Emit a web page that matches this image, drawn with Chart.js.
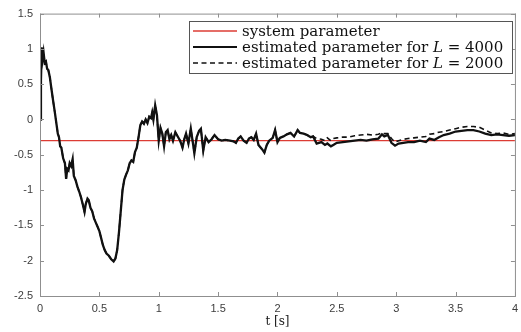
<html>
<head>
    <title>Parameter estimate</title>
    <script src="https://cdn.jsdelivr.net/npm/chart.js@4.4.1/dist/chart.umd.min.js"></script>
    <style>
        html, body { margin: 0; padding: 0; overflow: hidden; background: #fff; }
    </style>
</head>
<body>
    <canvas id="est" width="524" height="332"></canvas>
    <script>
        // time axis and values
        const xTicks = [0, 0.5, 1, 1.5, 2, 2.5, 3, 3.5, 4];
        const yTicks = [-2.5, -2, -1.5, -1, -0.5, 0, 0.5, 1, 1.5];
        const systemParam = -0.3;

        // both estimates coincide up to about t = 2.3 s
        const tEarly = [0, 0.008, 0.015, 0.022, 0.03, 0.04, 0.05, 0.06, 0.07, 0.083, 0.095, 0.11, 0.125, 0.14, 0.15,
            0.16, 0.17, 0.18, 0.195, 0.21, 0.22, 0.23, 0.24, 0.25, 0.262, 0.275, 0.285, 0.3, 0.315, 0.33, 0.345,
            0.36, 0.375, 0.385, 0.4, 0.41, 0.425, 0.44, 0.455, 0.47, 0.485, 0.5, 0.515, 0.53, 0.545, 0.56, 0.58,
            0.6, 0.62, 0.635, 0.65, 0.665, 0.68, 0.695, 0.71, 0.725, 0.74, 0.755, 0.77, 0.785, 0.8, 0.815, 0.83,
            0.845, 0.86, 0.875, 0.89, 0.905, 0.92, 0.935, 0.945, 0.955, 0.97, 0.985, 1.0, 1.015, 1.03, 1.045,
            1.06, 1.075, 1.09, 1.105, 1.12, 1.14, 1.16, 1.18, 1.2, 1.215, 1.23, 1.25, 1.27, 1.29, 1.3, 1.32,
            1.34, 1.355, 1.375, 1.395, 1.42, 1.445, 1.47, 1.5, 1.53, 1.56, 1.6, 1.63, 1.65, 1.67, 1.69, 1.715,
            1.74, 1.76, 1.78, 1.8, 1.82, 1.84, 1.87, 1.89, 1.91, 1.93, 1.96, 1.98, 2.0, 2.02, 2.05, 2.08, 2.11,
            2.14, 2.17, 2.19, 2.22, 2.25, 2.28, 2.3];
        const estEarly = [0, 0.55, 1.02, 0.85, 0.95, 0.8, 0.82, 0.72, 0.7, 0.6, 0.45, 0.27, 0.1, -0.08, -0.2,
            -0.25, -0.38, -0.4, -0.55, -0.62, -0.84, -0.7, -0.72, -0.62, -0.66, -0.56, -0.8, -0.86, -0.95, -1.02, -1.1,
            -1.2, -1.31, -1.2, -1.12, -1.14, -1.25, -1.3, -1.4, -1.46, -1.52, -1.58, -1.68, -1.78, -1.85, -1.9, -1.93,
            -1.98, -2.01, -1.97, -1.85, -1.6, -1.3, -1.0, -0.85, -0.78, -0.72, -0.62, -0.58, -0.6, -0.46, -0.4, -0.25,
            -0.08, -0.03, -0.06, 0.0, -0.05, 0.04, 0.02, 0.1, 0.0, 0.2, 0.06, -0.3, -0.12, -0.2, -0.38,
            -0.18, -0.15, -0.28, -0.22, -0.3, -0.18, -0.24, -0.3, -0.4, -0.28, -0.2, -0.34, -0.13, -0.36, -0.48, -0.25,
            -0.16, -0.13, -0.44, -0.25, -0.32, -0.28, -0.22, -0.28, -0.3, -0.29, -0.3, -0.31, -0.33, -0.27, -0.24, -0.3,
            -0.33, -0.27, -0.25, -0.29, -0.2, -0.36, -0.42, -0.47, -0.36, -0.3, -0.26, -0.15, -0.32, -0.26, -0.24, -0.21, -0.19,
            -0.24, -0.15, -0.19, -0.2, -0.22, -0.25, -0.24];

        const tLate = [2.33, 2.37, 2.4, 2.42, 2.45, 2.47, 2.5, 2.55, 2.6, 2.65, 2.7, 2.75, 2.8, 2.85, 2.88, 2.9,
            2.93, 2.96, 2.99, 3.02, 3.06, 3.1, 3.15, 3.2, 3.25, 3.28, 3.32, 3.36, 3.4, 3.45, 3.5, 3.55, 3.6, 3.65,
            3.7, 3.75, 3.8, 3.85, 3.9, 3.95, 4.0];
        const est4000Late = [-0.34, -0.32, -0.36, -0.34, -0.38, -0.36, -0.33, -0.32, -0.31, -0.3, -0.29, -0.3, -0.28, -0.27, -0.21, -0.24,
            -0.22, -0.33, -0.37, -0.34, -0.33, -0.32, -0.32, -0.3, -0.32, -0.27, -0.29, -0.25, -0.22, -0.2, -0.17, -0.16, -0.15, -0.15,
            -0.17, -0.2, -0.22, -0.21, -0.22, -0.23, -0.22];
        const est2000Late = [-0.27, -0.28, -0.3, -0.26, -0.3, -0.27, -0.26, -0.25, -0.25, -0.23, -0.22, -0.21, -0.22, -0.21, -0.19, -0.2,
            -0.2, -0.27, -0.32, -0.3, -0.28, -0.27, -0.26, -0.25, -0.24, -0.21, -0.2, -0.18, -0.17, -0.15, -0.13, -0.11, -0.1, -0.1,
            -0.11, -0.15, -0.19, -0.2, -0.19, -0.21, -0.2];

        function pts(ts, vs) {
            return ts.map((x, i) => ({ x: x, y: vs[i] }));
        }
        const early = pts(tEarly, estEarly);
        const line4000 = early.concat(pts(tLate, est4000Late));
        const line2000 = early.concat(pts(tLate, est2000Late));
        const sysLine = [{ x: xTicks[0], y: systemParam }, { x: xTicks[xTicks.length - 1], y: systemParam }];

        const axisColor = '#8f8f8f';
        const labelColor = '#3c3c3c';
        const red = '#dc3c34';

        // MATLAB style box with inward ticks on all four sides
        const boxPlugin = {
            id: 'box',
            afterDraw(chart) {
                const c = chart.ctx, a = chart.chartArea;
                const xs = chart.scales.x, ys = chart.scales.y;
                c.save();
                c.strokeStyle = axisColor;
                c.lineWidth = 1;
                c.strokeRect(a.left + 0.5, a.top + 0.5, a.right - a.left, a.bottom - a.top);
                c.beginPath();
                xTicks.forEach(v => {
                    const px = Math.round(xs.getPixelForValue(v)) + 0.5;
                    c.moveTo(px, a.bottom); c.lineTo(px, a.bottom - 4);
                    c.moveTo(px, a.top); c.lineTo(px, a.top + 4);
                });
                yTicks.forEach(v => {
                    const py = Math.round(ys.getPixelForValue(v)) + 0.5;
                    c.moveTo(a.left, py); c.lineTo(a.left + 4, py);
                    c.moveTo(a.right, py); c.lineTo(a.right - 4, py);
                });
                c.stroke();

                // legend box
                const lx = 189, ly = 21, lw = 323, lh = 52;
                c.fillStyle = '#fff';
                c.fillRect(lx, ly, lw, lh);
                c.strokeStyle = '#555';
                c.strokeRect(lx + 0.5, ly + 0.5, lw, lh);
                const rows = [
                    { color: red, width: 1.5, dash: [], parts: [['system parameter', false]] },
                    { color: '#111', width: 1.8, dash: [], parts: [['estimated parameter for ', false], ['L', true], [' = 4000', false]] },
                    { color: '#111', width: 1.5, dash: [5, 3.5], parts: [['estimated parameter for ', false], ['L', true], [' = 2000', false]] }
                ];
                const rowY = [31, 47, 63];
                rows.forEach((r, i) => {
                    const y = rowY[i];
                    c.beginPath();
                    c.strokeStyle = r.color;
                    c.lineWidth = r.width;
                    c.setLineDash(r.dash);
                    c.moveTo(193, y); c.lineTo(237, y);
                    c.stroke();
                    c.setLineDash([]);
                    let x = 242;
                    c.fillStyle = '#111';
                    c.textBaseline = 'middle';
                    r.parts.forEach(([txt, it]) => {
                        c.font = (it ? 'italic ' : '') + '15px "DejaVu Serif"';
                        c.fillText(txt, x, y + 1);
                        x += c.measureText(txt).width;
                    });
                });
                c.restore();
            }
        };

        let ctx = document.getElementById('est').getContext('2d');
        let chart = new Chart(ctx, {
            type: 'line',
            data: {
                datasets: [{
                    label: 'system parameter',
                    data: sysLine,
                    borderColor: red,
                    borderWidth: 1.2,
                    pointRadius: 0,
                    order: 3
                }, {
                    label: 'estimated parameter for L = 2000',
                    data: line2000,
                    borderColor: '#111',
                    borderWidth: 1.6,
                    borderDash: [5, 3.5],
                    pointRadius: 0,
                    order: 2
                }, {
                    label: 'estimated parameter for L = 4000',
                    data: line4000,
                    borderColor: '#111',
                    borderWidth: 2.3,
                    pointRadius: 0,
                    order: 1
                }]
            },
            options: {
                animation: false,
                responsive: false,
                layout: { padding: { top: 13, right: 1, left: 0, bottom: 0 } },
                plugins: {
                    legend: { display: false },
                    tooltip: { enabled: false }
                },
                elements: { line: { tension: 0 } },
                scales: {
                    x: {
                        type: 'linear',
                        min: 0,
                        max: 4,
                        afterFit: s => { s.height = 36; },
                        afterBuildTicks: s => { s.ticks = xTicks.map(v => ({ value: v })); },
                        grid: { display: false, drawTicks: false },
                        border: { display: false },
                        ticks: {
                            padding: 6,
                            color: labelColor,
                            font: { family: '"Liberation Sans", Arial', size: 11 },
                            maxRotation: 0,
                            callback: v => String(v)
                        },
                        title: {
                            display: true,
                            text: 't [s]',
                            color: '#1a1a1a',
                            font: { family: '"DejaVu Serif"', size: 12 },
                            padding: { top: 0, bottom: 3 }
                        }
                    },
                    y: {
                        type: 'linear',
                        min: -2.5,
                        max: 1.5,
                        afterFit: s => { s.width = 40; },
                        afterBuildTicks: s => { s.ticks = yTicks.map(v => ({ value: v })); },
                        grid: { display: false, drawTicks: false },
                        border: { display: false },
                        ticks: {
                            padding: 7,
                            color: labelColor,
                            font: { family: '"Liberation Sans", Arial', size: 11 },
                            callback: v => String(v)
                        }
                    }
                }
            },
            plugins: [boxPlugin]
        });
    </script>
</body>
</html>
